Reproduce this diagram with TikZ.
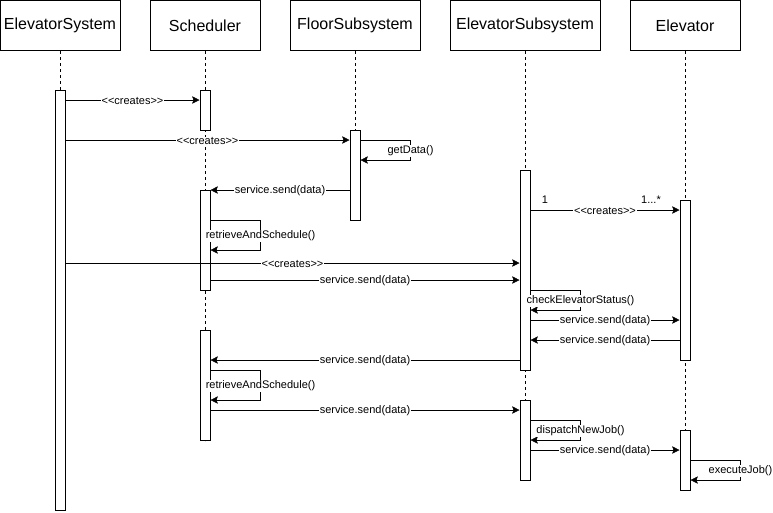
\documentclass[tikz,border=0pt]{standalone}
\usepackage{fontspec}
\setmainfont{Liberation Sans}
\usetikzlibrary{arrows.meta,backgrounds}
\newcommand\crelbl{<\kern0pt<creates>\kern0pt>}
\begin{document}
\begin{tikzpicture}[x=0.75pt,y=-0.75pt, line width=0.75pt,
  header/.style={draw, fill=white, minimum height=37.5pt, inner sep=0pt, anchor=north, font=\fontsize{12}{14}\selectfont},
  actbar/.style={draw, fill=white, minimum width=7.5pt, inner sep=0pt, anchor=north},
  lifeline/.style={dash pattern=on 2.25pt off 2.25pt},
  msg/.style={-{Stealth[length=5.5pt,width=5.5pt,inset=1pt]}},
  lbl/.style={fill=white, inner sep=0.5pt, yshift=-0.6pt, font=\fontsize{8.25}{9.5}\selectfont},
  mult/.style={inner sep=0pt, font=\fontsize{8.25}{9.5}\selectfont},
]
\useasboundingbox (0,0) rectangle (773,512);
% headers
\node[header, minimum width=90pt]   (hES)  at (60,0)  {ElevatorSystem};
\node[header, minimum width=82.5pt] (hSch) at (205,0) {Scheduler};
\node[header, minimum width=97.5pt] (hFS)  at (355,0) {FloorSubsystem};
\node[header, minimum width=112.5pt](hESub) at (525,0) {ElevatorSubsystem};
\node[header, minimum width=82.5pt] (hEl)  at (685,0) {Elevator};
% activation bars
\node[actbar, minimum height=315pt]  (a1) at (60,90)  {};
\node[actbar, minimum height=30pt]   (s1) at (205,90) {};
\node[actbar, minimum height=67.5pt] (f1) at (355,130) {};
\node[actbar, minimum height=75pt]   (s2) at (205,190) {};
\node[actbar, minimum height=150pt]  (e1) at (525,170) {};
\node[actbar, minimum height=120pt]  (l1) at (685,200) {};
\node[actbar, minimum height=82.5pt] (s3) at (205,330) {};
\node[actbar, minimum height=60pt]   (e2) at (525,400) {};
\node[actbar, minimum height=45pt]   (l2) at (685,430) {};
% lifelines
\begin{pgfonlayer}{background}
\draw[lifeline] (hES.south) -- (a1.south);
\draw[lifeline] (hSch.south) -- (s3.south);
\draw[lifeline] (hFS.south) -- (f1.south);
\draw[lifeline] (hESub.south) -- (e2.south);
\draw[lifeline] (hEl.south) -- (l2.south);
\end{pgfonlayer}
% messages
\draw[msg] (a1.east |- 0,100) -- node[lbl]{\crelbl} (s1.west |- 0,100);
\draw[msg] (a1.east |- 0,140) -- node[lbl]{\crelbl} (f1.west |- 0,140);
\draw[msg] (f1.east |- 0,140) -- ++(50,0) -- node[lbl]{getData()} ++(0,20) -- (f1.east |- 0,160);
\draw[msg] (f1.west |- 0,190) -- node[lbl]{service.send(data)} (s2.east |- 0,190);
\draw[msg] (s2.east |- 0,220) -- ++(50,0) -- node[lbl]{retrieveAndSchedule()} ++(0,30) -- (s2.east |- 0,250);
\draw[msg] (a1.east |- 0,263) -- node[lbl]{\crelbl} (e1.west |- 0,263);
\draw[msg] (s2.east |- 0,280) -- node[lbl]{service.send(data)} (e1.west |- 0,280);
\draw[msg] (e1.east |- 0,210) -- node[lbl]{\crelbl} (l1.west |- 0,210);
\node[mult] (m1) at (545,200) {1};
\node[mult] (m2) at (651,200) {1...*};
\draw[msg] (e1.east |- 0,290) -- ++(50,0) -- node[lbl]{checkElevatorStatus()} ++(0,20) -- (e1.east |- 0,310);
\draw[msg] (e1.east |- 0,320) -- node[lbl]{service.send(data)} (l1.west |- 0,320);
\draw[msg] (l1.west |- 0,340) -- node[lbl]{service.send(data)} (e1.east |- 0,340);
\draw[msg] (e1.west |- 0,360) -- node[lbl]{service.send(data)} (s3.east |- 0,360);
\draw[msg] (s3.east |- 0,370) -- ++(50,0) -- node[lbl]{retrieveAndSchedule()} ++(0,30) -- (s3.east |- 0,400);
\draw[msg] (s3.east |- 0,410) -- node[lbl]{service.send(data)} (e2.west |- 0,410);
\draw[msg] (e2.east |- 0,420) -- ++(50,0) -- node[lbl]{dispatchNewJob()} ++(0,20) -- (e2.east |- 0,440);
\draw[msg] (e2.east |- 0,450) -- node[lbl]{service.send(data)} (l2.west |- 0,450);
\draw[msg] (l2.east |- 0,460) -- ++(50,0) -- node[lbl]{executeJob()} ++(0,20) -- (l2.east |- 0,480);
\end{tikzpicture}
\end{document}
